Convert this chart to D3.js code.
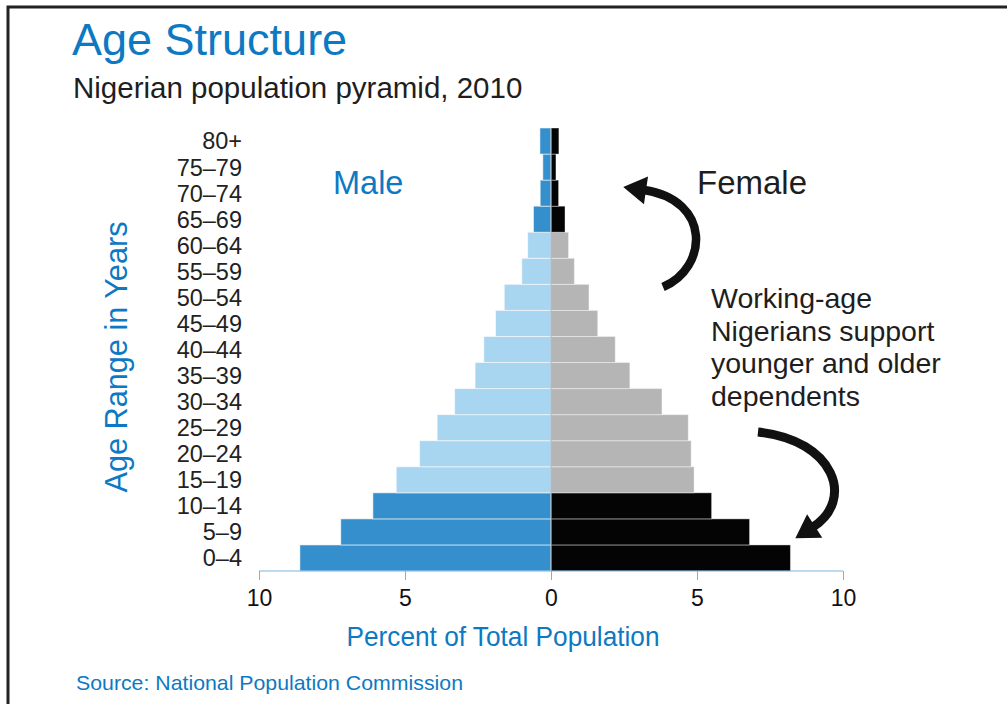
<!DOCTYPE html>
<html>
<head>
<meta charset="utf-8">
<script src="https://cdn.jsdelivr.net/npm/d3@7"></script>
<style>
	body { margin: 0; background: #fff; }
	svg { display: block; font-family: 'Liberation Sans', Arial, Helvetica, sans-serif; }
</style>
</head>
<body>
<svg id="svg-port" width="1007" height="704"></svg>
<script>
// age groups, youngest first
var ageGroups = ['0–4', '5–9', '10–14', '15–19', '20–24', '25–29', '30–34', '35–39', '40–44',
	'45–49', '50–54', '55–59', '60–64', '65–69', '70–74', '75–79', '80+'];
var malePct = [8.6, 7.2, 6.1, 5.3, 4.5, 3.9, 3.3, 2.6, 2.3, 1.9, 1.6, 1.0, 0.8, 0.6, 0.37, 0.28, 0.38];
var femalePct = [8.2, 6.8, 5.5, 4.9, 4.8, 4.7, 3.8, 2.7, 2.2, 1.6, 1.3, 0.8, 0.6, 0.48, 0.26, 0.17, 0.27];
var workingAges = ['15–19', '20–24', '25–29', '30–34', '35–39', '40–44', '45–49', '50–54', '55–59', '60–64'];
var xTicks = [-10, -5, 0, 5, 10];
var noteLines = ['Working-age', 'Nigerians support', 'younger and older', 'dependents'];

drawPyramid();

function drawPyramid() {
	var blue = '#0d79c3';
	var maleDark = '#358fcd';
	var maleLight = '#a8d5f0';
	var femaleDark = '#040404';
	var femaleLight = '#b5b5b5';
	var svg = d3.select('#svg-port');

	// frame
	svg.append('path')
		.attr('d', 'M8,720 L8,7 L1020,7')
		.attr('fill', 'none')
		.attr('stroke', '#222')
		.attr('stroke-width', 3);

	svg.append('text').attr('x', 72).attr('y', 55)
		.style('font-size', '45px').style('fill', blue)
		.text('Age Structure');
	svg.append('text').attr('x', 73).attr('y', 98)
		.style('font-size', '29.5px').style('fill', '#1e1e1e')
		.text('Nigerian population pyramid, 2010');

	var rows = ageGroups.map(function (a, i) {
		return {age: a, male: malePct[i], female: femalePct[i], working: workingAges.includes(a)};
	});

	var xScale = d3.scaleLinear().domain([-10, 10]).range([259, 843]);
	var yScale = d3.scaleBand()
		.domain(ageGroups.slice().reverse())
		.range([128, 571])
		.padding(0);

	var bars = svg.append('g').attr('id', 'bars');
	bars.selectAll('rect.male')
		.data(rows)
		.enter().append('rect')
		.attr('class', 'male')
		.attr('x', function (d) { return xScale(-d.male); })
		.attr('y', function (d) { return yScale(d.age); })
		.attr('width', function (d) { return xScale(0) - xScale(-d.male); })
		.attr('height', yScale.bandwidth())
		.style('fill', function (d) { return d.working ? maleLight : maleDark; })
		.style('stroke', 'rgba(255,255,255,0.55)')
		.style('stroke-width', 1);
	bars.selectAll('rect.female')
		.data(rows)
		.enter().append('rect')
		.attr('class', 'female')
		.attr('x', xScale(0))
		.attr('y', function (d) { return yScale(d.age); })
		.attr('width', function (d) { return xScale(d.female) - xScale(0); })
		.attr('height', yScale.bandwidth())
		.style('fill', function (d) { return d.working ? femaleLight : femaleDark; })
		.style('stroke', 'rgba(255,255,255,0.4)')
		.style('stroke-width', 1);
	// centre line
	bars.append('line')
		.attr('x1', xScale(0)).attr('x2', xScale(0))
		.attr('y1', 128).attr('y2', 571)
		.style('stroke', '#9ab3c6').style('stroke-width', 1);

	// age labels
	svg.append('g').selectAll('text')
		.data(ageGroups)
		.enter().append('text')
		.attr('x', 242)
		.attr('y', function (d) { return yScale(d) + yScale.bandwidth() / 2; })
		.attr('dy', '0.36em')
		.attr('text-anchor', 'end')
		.style('font-size', '23.5px')
		.style('fill', '#222')
		.text(function (d) { return d; });

	// x axis
	var xAxis = d3.axisBottom(xScale)
		.tickValues(xTicks)
		.tickSize(9)
		.tickPadding(10)
		.tickFormat(function (d) { return Math.abs(d); });
	var ax = svg.append('g').attr('id', 'x-axis')
		.attr('transform', 'translate(0,571)')
		.call(xAxis);
	ax.select('.domain').attr('d', 'M' + xScale(-10) + ',0H' + xScale(10)).style('stroke', '#78b4e0');
	ax.selectAll('.tick line').style('stroke', '#78b4e0');
	ax.selectAll('.tick text')
		.style('font-size', '23px')
		.style('font-family', "'Liberation Sans', Arial, sans-serif")
		.style('fill', '#111');

	svg.append('text').attr('x', 503).attr('y', 646)
		.attr('text-anchor', 'middle')
		.attr('textLength', 313).attr('lengthAdjust', 'spacingAndGlyphs')
		.style('font-size', '28px').style('fill', blue)
		.text('Percent of Total Population');

	svg.append('text')
		.attr('transform', 'translate(127,357) rotate(-90)')
		.attr('text-anchor', 'middle')
		.attr('textLength', 271).attr('lengthAdjust', 'spacingAndGlyphs')
		.style('font-size', '31px').style('fill', blue)
		.text('Age Range in Years');

	svg.append('text').attr('x', 76).attr('y', 690)
		.attr('textLength', 387).attr('lengthAdjust', 'spacingAndGlyphs')
		.style('font-size', '21px').style('fill', blue)
		.text('Source: National Population Commission');

	svg.append('text').attr('x', 333).attr('y', 194)
		.style('font-size', '32.5px').style('fill', blue)
		.text('Male');
	svg.append('text').attr('x', 697).attr('y', 194)
		.style('font-size', '33px').style('fill', '#1e1e1e')
		.text('Female');

	svg.append('g').selectAll('text')
		.data(noteLines)
		.enter().append('text')
		.attr('x', 711)
		.attr('y', function (d, i) { return 308 + i * 32.5; })
		.style('font-size', '28.5px')
		.style('fill', '#1e1e1e')
		.text(function (d) { return d; });

	// curved arrows
	drawArrow(svg, [663, 287], [708, 268], [712, 200], [644, 190], 8.5);
	drawArrow(svg, [758, 432], [835, 440], [855, 500], [813, 527], 9);
}

function drawArrow(svg, p0, c1, c2, p3, w) {
	var p = d3.path();
	p.moveTo(p0[0], p0[1]);
	p.bezierCurveTo(c1[0], c1[1], c2[0], c2[1], p3[0], p3[1]);
	svg.append('path')
		.attr('d', p.toString())
		.attr('fill', 'none')
		.attr('stroke', '#111')
		.attr('stroke-width', w);
	// head along the end tangent
	var dx = p3[0] - c2[0], dy = p3[1] - c2[1];
	var len = Math.sqrt(dx * dx + dy * dy);
	var ux = dx / len, uy = dy / len;
	var nx = -uy, ny = ux;
	var headLen = 21, headW = 14;
	var tip = [p3[0] + ux * headLen, p3[1] + uy * headLen];
	var b = [p3[0] - ux * 2, p3[1] - uy * 2];
	svg.append('path')
		.attr('d', 'M' + tip + 'L' + [b[0] + nx * headW, b[1] + ny * headW] +
			'L' + [b[0] - nx * headW, b[1] - ny * headW] + 'Z')
		.attr('fill', '#111');
}
</script>
</body>
</html>
